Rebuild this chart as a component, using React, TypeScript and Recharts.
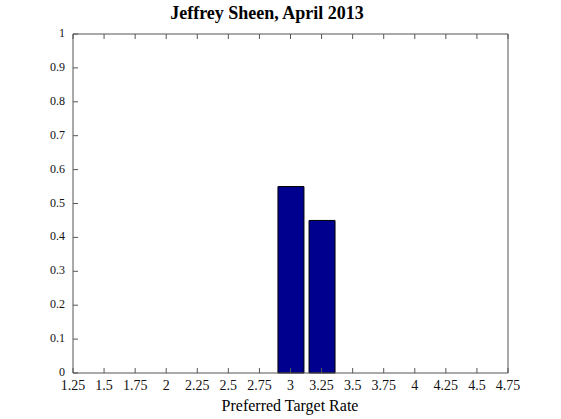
import React from 'react'
import { BarChart, Bar, XAxis, YAxis } from 'recharts'

// Preferred target rate distribution
const rates = [1.25, 1.5, 1.75, 2, 2.25, 2.5, 2.75, 3, 3.25, 3.5, 3.75, 4, 4.25, 4.5, 4.75]
const shares = [0, 0, 0, 0, 0, 0, 0, 0.55, 0.45, 0, 0, 0, 0, 0, 0]
const yTicks = [0, 0.1, 0.2, 0.3, 0.4, 0.5, 0.6, 0.7, 0.8, 0.9, 1]

const data = rates.map((r, i) => ({ rate: r, share: shares[i] }))

const font = '"Liberation Serif", "Times New Roman", serif'
const frame = '#555'

function BottomTick(props: any) {
  const { x, y, payload } = props
  return (
    <g>
      <line x1={x} y1={y} x2={x} y2={y - 5} stroke={frame} />
      <text x={x} y={y + 17} textAnchor='middle' fontFamily={font} fontSize={14} fill='#111'>
        {String(payload.value)}
      </text>
    </g>
  )
}

function TopTick(props: any) {
  const { x, y } = props
  return <line x1={x} y1={y} x2={x} y2={y + 5} stroke={frame} />
}

function LeftTick(props: any) {
  const { x, y, payload } = props
  return (
    <g>
      <line x1={x} y1={y} x2={x + 5} y2={y} stroke={frame} />
      <text x={x - 8} y={y + 3} textAnchor='end' fontFamily={font} fontSize={12} fill='#111'>
        {String(payload.value)}
      </text>
    </g>
  )
}

function RightTick(props: any) {
  const { x, y } = props
  return <line x1={x} y1={y} x2={x - 5} y2={y} stroke={frame} />
}

export default function App() {
  return (
    <div style={{ position: 'absolute', left: 0, top: 0, width: 561, height: 419, background: '#fff' }}>
      <div
        style={{
          position: 'absolute',
          left: 0,
          width: 534,
          top: 3,
          textAlign: 'center',
          fontFamily: font,
          fontWeight: 'bold',
          fontSize: 18
        }}
      >
        Jeffrey Sheen, April 2013
      </div>
      <BarChart width={561} height={419} data={data} margin={{ top: 33, right: 52, left: 33, bottom: 16 }}>
        <XAxis
          xAxisId='b'
          dataKey='rate'
          type='number'
          domain={[1.25, 4.75]}
          ticks={rates}
          interval={0}
          tickSize={0}
          tickMargin={0}
          tickLine={false}
          axisLine={{ stroke: frame }}
          tick={<BottomTick />}
          height={30}
        />
        <XAxis
          xAxisId='t'
          orientation='top'
          dataKey='rate'
          type='number'
          domain={[1.25, 4.75]}
          ticks={rates}
          interval={0}
          tickSize={0}
          tickMargin={0}
          tickLine={false}
          axisLine={{ stroke: frame }}
          tick={<TopTick />}
          height={1}
        />
        <YAxis
          yAxisId='l'
          type='number'
          domain={[0, 1]}
          ticks={yTicks}
          interval={0}
          tickSize={0}
          tickMargin={0}
          tickLine={false}
          axisLine={{ stroke: frame }}
          tick={<LeftTick />}
          width={40}
        />
        <YAxis
          yAxisId='r'
          orientation='right'
          type='number'
          domain={[0, 1]}
          ticks={yTicks}
          interval={0}
          tickSize={0}
          tickMargin={0}
          tickLine={false}
          axisLine={{ stroke: frame }}
          tick={<RightTick />}
          width={1}
        />
        <Bar
          xAxisId='b'
          yAxisId='l'
          dataKey='share'
          barSize={26}
          fill='#00008f'
          stroke='#000'
          strokeWidth={1}
          isAnimationActive={false}
        />
      </BarChart>
      <div
        style={{
          position: 'absolute',
          left: 140,
          width: 300,
          top: 397,
          textAlign: 'center',
          fontFamily: font,
          fontSize: 16
        }}
      >
        Preferred Target Rate
      </div>
    </div>
  )
}
